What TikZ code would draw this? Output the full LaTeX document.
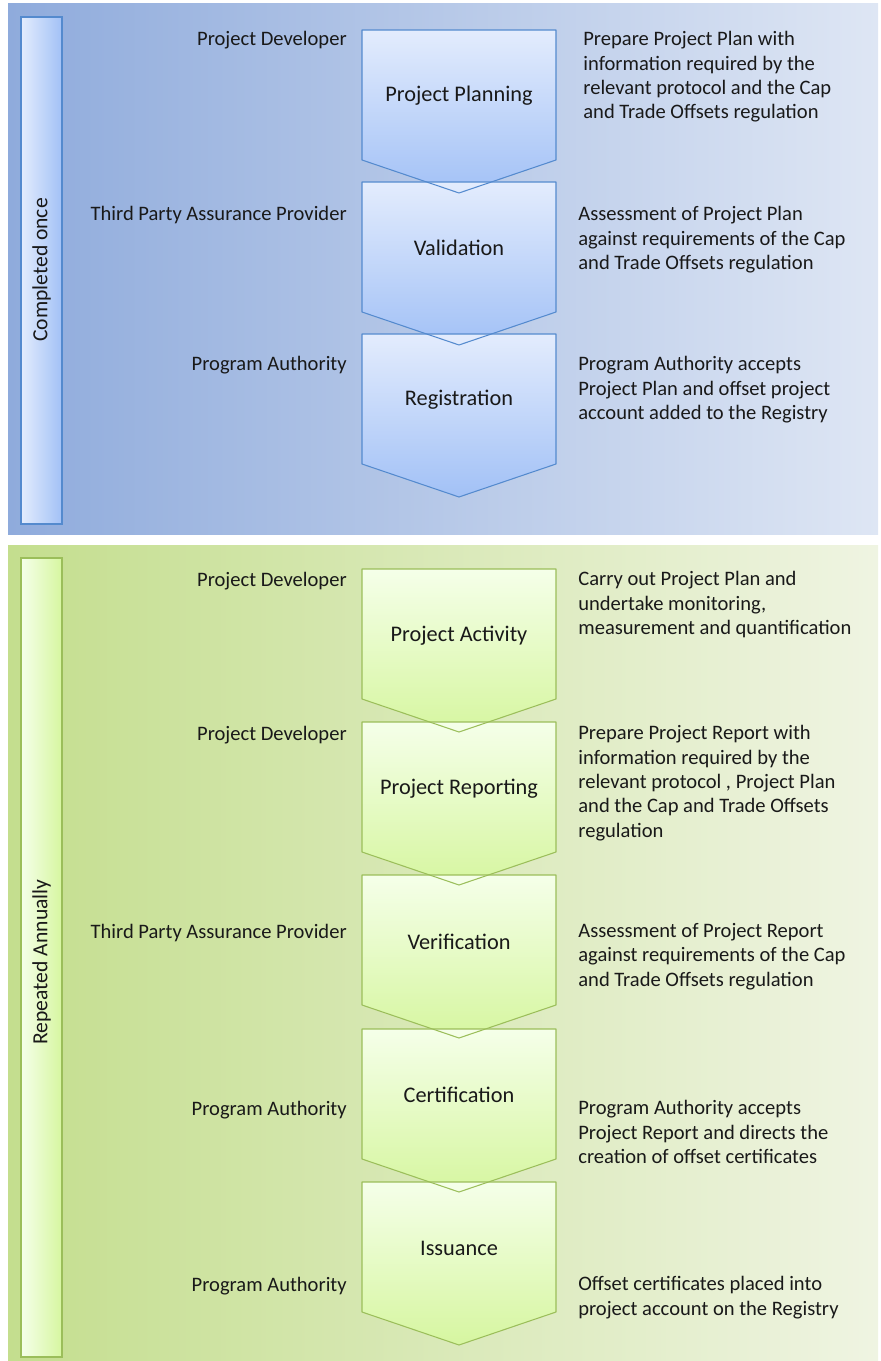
\documentclass[tikz,border=0pt]{standalone}
\usepackage{fontspec}
\setmainfont{Carlito}
\usepackage{tikz}
\usetikzlibrary{
    calc,
    positioning
}

\definecolor{bluepanelL}{RGB}{143,171,220}
\definecolor{bluepanelR}{RGB}{222,230,244}
\definecolor{greenpanelL}{RGB}{196,222,142}
\definecolor{greenpanelR}{RGB}{239,244,226}
\definecolor{bluetop}{RGB}{227,236,253}
\definecolor{bluebot}{RGB}{162,193,246}
\definecolor{blueline}{RGB}{84,138,206}
\definecolor{greentop}{RGB}{245,255,233}
\definecolor{greenbot}{RGB}{214,246,160}
\definecolor{greenline}{RGB}{155,190,90}

\tikzset{
    role/.style={anchor=base east, inner sep=0pt, font=\fontsize{11.7}{13.9}\selectfont, text=black!90},
    desc/.style={anchor=north west, align=left, inner sep=0pt,
        font=\fontsize{11.7}{13.9}\selectfont, text=black!90},
    steplabel/.style={font=\fontsize{12.7}{15}\selectfont, text=black!90},
    barlabel/.style={rotate=90, font=\fontsize{12.3}{14}\selectfont, text=black!90},
    bluechev/.style={top color=bluetop, bottom color=bluebot},
    greenchev/.style={top color=greentop, bottom color=greenbot}
}

% chevron with its top edge at y=#1
\newcommand{\chevpath}[1]{(362,#1) -- (556,#1) -- (556,#1+130) -- (459,#1+163) -- (362,#1+130) -- cycle}

\begin{document}
\begin{tikzpicture}[x=0.02cm, y=-0.02cm]
\useasboundingbox (0,0) rectangle (880,1361);

% panels
\shade[left color=bluepanelL, right color=bluepanelR] (8,4) rectangle (878,534);
\shade[left color=greenpanelL, right color=greenpanelR] (8,545) rectangle (878,1360);

% side bars
\shade[left color=bluetop, right color=bluebot, draw=blueline, line width=0.8pt] (21,17) rectangle (62,524);
\shade[left color=greentop, right color=greenbot, draw=greenline, line width=0.8pt] (21,558) rectangle (62,1357);
\node[barlabel] (once) at (41.5,270) {Completed once};
\node[barlabel] (annual) at (41.5,962) {Repeated Annually};

% chevrons: fills first, outlines on top
\foreach \t in {30,182,334}
    \shade[bluechev] \chevpath{\t};
\foreach \t in {569,722,875,1029,1182}
    \shade[greenchev] \chevpath{\t};
\foreach \t in {30,182,334}
    \draw[blueline, line width=0.6pt, line join=round] \chevpath{\t};
\foreach \t in {569,722,875,1029,1182}
    \draw[greenline, line width=0.6pt, line join=round] \chevpath{\t};

% step names
\node[steplabel] (plan) at (459,96) {Project Planning};
\node[steplabel] (valid) at (459,248) {Validation};
\node[steplabel] (reg) at (459,400) {Registration};
\node[steplabel] (act) at (459,636) {Project Activity};
\node[steplabel] (rep) at (459,789) {Project Reporting};
\node[steplabel] (verif) at (459,942) {Verification};
\node[steplabel] (cert) at (459,1095) {Certification};
\node[steplabel] (iss) at (459,1248) {Issuance};

% who does it
\node[role] (planwho) at (347,46) {Project Developer};
\node[role] (validwho) at (347,221) {Third Party Assurance Provider};
\node[role] (regwho) at (347,371) {Program Authority};
\node[role] (actwho) at (347,586) {Project Developer};
\node[role] (repwho) at (347,740) {Project Developer};
\node[role] (verifwho) at (347,938) {Third Party Assurance Provider};
\node[role] (certwho) at (347,1115) {Program Authority};
\node[role] (isswho) at (347,1291) {Program Authority};

% what is done
\node[desc] (plandesc) at (583,31) {Prepare Project Plan with\\information required by the\\relevant protocol and the Cap\\and Trade Offsets regulation};
\node[desc] (validdesc) at (578,206) {Assessment of Project Plan\\against requirements of the Cap\\and Trade Offsets regulation};
\node[desc] (regdesc) at (578,356) {Program Authority accepts\\Project Plan and offset project\\account added to the Registry};
\node[desc] (actdesc) at (578,571) {Carry out Project Plan and\\undertake monitoring,\\measurement and quantification};
\node[desc] (repdesc) at (578,725) {Prepare Project Report with\\information required by the\\relevant protocol , Project Plan\\and the Cap and Trade Offsets\\regulation};
\node[desc] (verifdesc) at (578,923) {Assessment of Project Report\\against requirements of the Cap\\and Trade Offsets regulation};
\node[desc] (certdesc) at (578,1100) {Program Authority accepts\\Project Report and directs the\\creation of offset certificates};
\node[desc] (issdesc) at (578,1276) {Offset certificates placed into\\project account on the Registry};
\end{tikzpicture}
\end{document}
